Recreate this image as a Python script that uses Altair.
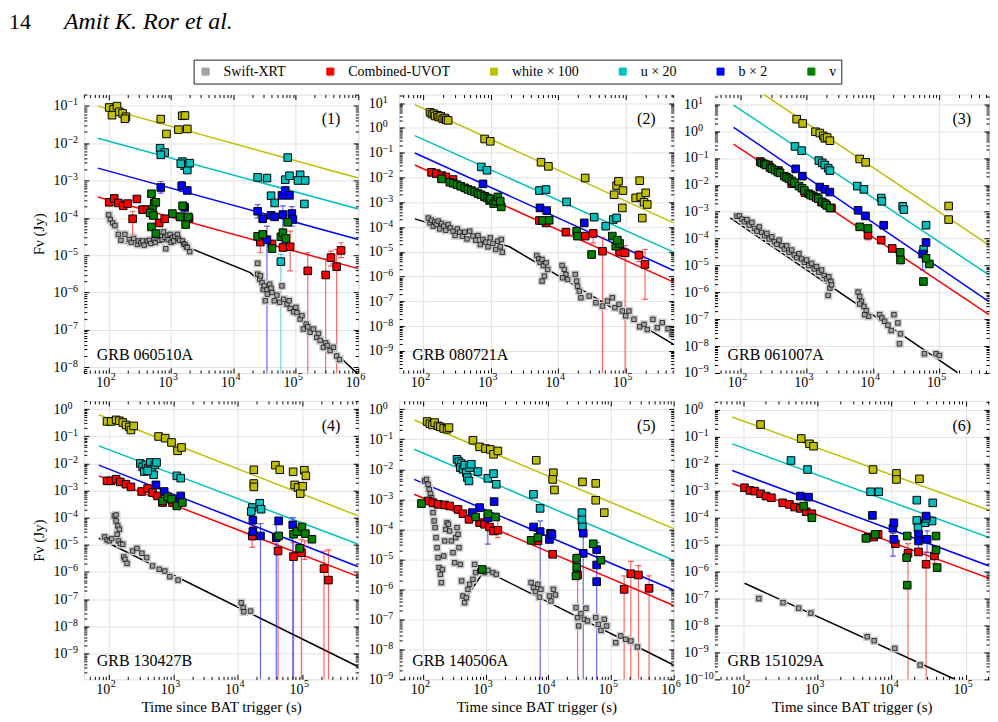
import math
import altair as alt
import pandas as pd

FONT = "Liberation Serif"
XRT, UV, WH, U, B, V = "Swift-XRT", "Combined-UVOT", "white × 100", "u × 20", "b × 2", "v"
BANDS = [XRT, UV, WH, U, B, V]
COLORS = ["#a3a3a3", "#ff0000", "#bfbf00", "#00bfbf", "#0000ff", "#008000"]
GRID = "#e2e2e2"
LOW = 1e-20
W, H = 275, 279

# ---------------- Panel 1 : GRB 060510A ----------------
p1_xdom = [40, 1e6]
p1_ydom = [7e-9, 0.2]
p1_xrt = [(100, 1.2e-4), (106, 9.0e-5), (116, 7.3e-5), (126, 6.2e-5), (143, 3.6e-5), (157, 2.5e-5),
          (182, 3.6e-5), (214, 2.6e-5), (230, 2.2e-5), (251, 2.8e-5), (290, 1.94e-5), (300, 2.4e-5),
          (328, 2.15e-5), (350, 2.4e-5), (371, 1.86e-5), (419, 2.4e-5), (450, 2.5e-5), (474, 2.06e-5),
          (536, 2.6e-5), (560, 2.2e-5), (605, 2.8e-5), (650, 2.5e-5), (684, 3.2e-5), (720, 2.6e-5),
          (755, 4.2e-5), (800, 3.0e-5), (822, 1.49e-5), (874, 3.4e-5), (900, 2.6e-5), (964, 3.6e-5),
          (1000, 2.2e-5), (1050, 2.9e-5), (1100, 2.4e-5), (1150, 3.2e-5), (1260, 3.6e-5), (1300, 2.8e-5),
          (1370, 2.5e-5), (1520, 2.4e-5), (1600, 2.0e-5), (1670, 1.94e-5), (1750, 1.7e-5), (1820, 1.6e-5),
          (1990, 1.24e-5),
          (2.44e4, 6.05e-6), (2.44e4, 3.1e-6), (2.63e4, 2.27e-6), (2.7e4, 2.8e-6), (2.87e4, 1.85e-6),
          (3.0e4, 1.2e-6), (3.12e4, 1.5e-6), (3.24e4, 6e-7), (3.44e4, 1.18e-6), (3.5e4, 9e-7),
          (3.8e4, 1.67e-6), (4.0e4, 1.3e-6), (4.14e4, 1.0e-6), (4.5e4, 6e-7), (4.97e4, 8.5e-7),
          (5.5e4, 5.5e-7), (5.98e4, 1.5e-6), (6.35e4, 6.6e-7), (7.2e4, 4.9e-7), (7.8e4, 6.0e-7),
          (8.1e4, 3.75e-7), (9.2e4, 3.05e-7), (1.0e5, 4.0e-7), (1.04e5, 2.9e-7), (1.17e5, 1.95e-7),
          (1.25e5, 2.4e-7), (1.32e5, 1.05e-7), (1.46e5, 1.43e-7), (1.55e5, 1.2e-7), (1.69e5, 8.6e-8),
          (1.91e5, 1.05e-7), (2.16e5, 6.3e-8), (2.3e5, 8e-8), (2.45e5, 5.2e-8), (2.76e5, 3.4e-8),
          (3.0e5, 4.5e-8), (3.2e5, 3.8e-8), (3.53e5, 2.8e-8), (4.0e5, 3.4e-8), (4.5e5, 2.0e-8),
          (5.0e5, 1.6e-8)]
p1_white = [(102, 0.090), (120, 0.080), (136, 0.098), (113, 0.056), (148, 0.069), (167, 0.0625),
            (189, 0.051), (182, 0.045), (684, 0.044), (843, 0.0176), (1310, 0.023), (1510, 0.054),
            (1670, 0.055), (1820, 0.024)]
p1_u = [(667, 7.3e-3), (792, 5.6e-3), (684, 4.85e-3), (1520, 3.2e-3), (1650, 2.5e-3), (1820, 1.9e-3),
        (1990, 2.9e-3), (1430, 2.8e-3), (7.4e4, 4.1e-3), (2.44e4, 1.21e-3), (3.44e4, 1.16e-3),
        (6.76e4, 1.05e-3), (7.9e4, 1.34e-3), (1.17e5, 1.42e-3), (1.08e5, 1.0e-3), (1.41e5, 1.0e-3),
        (4.0e4, 3.9e-4), (4.57e4, 2.5e-4), (1.37e5, 2.35e-4), (5.75e4, 6.7e-6)]
p1_b = [(684, 6.5e-4), (1480, 7.2e-4), (1820, 5.4e-4), (1650, 1.9e-4), (2.44e4, 1.5e-4), (2.94e4, 9.4e-5),
        (4.0e4, 1.17e-4), (4.57e4, 1.06e-4), (5.98e4, 4.0e-4), (6.76e4, 5.4e-4), (7.9e4, 4.0e-4),
        (6.2e4, 1.22e-4), (8.6e4, 1.3e-4), (8.95e4, 9.0e-5), (3.44e4, 2.6e-5)]
p1_v = [(485, 4.4e-4), (536, 2.5e-4), (569, 2.6e-4), (504, 1.66e-4), (462, 1.35e-4), (522, 1.15e-4),
        (485, 5.7e-5), (569, 3.8e-5), (1050, 1.3e-4), (1390, 1.06e-4), (1530, 2.1e-4), (1710, 6.6e-5),
        (1890, 1.06e-4), (2.44e4, 3.2e-5), (2.94e4, 3.6e-5), (4.14e4, 1.5e-5), (5.75e4, 3.1e-5),
        (6.2e4, 4.0e-5), (6.9e4, 2.8e-5), (7.4e4, 7.6e-5)]
p1_uvot = [(102, 2.6e-4), (123, 3.3e-4), (143, 2.5e-4), (171, 2.1e-4), (201, 2.4e-4), (242, 9.4e-5),
           (283, 3.2e-4), (349, 1.66e-4), (419, 1.66e-4), (644, 7.3e-5), (792, 9.4e-5), (1430, 1.06e-4),
           (1940, 9.6e-5), (2.7e4, 2.24e-5), (4.14e4, 2.0e-5), (6.2e4, 1.6e-5), (8.1e4, 1.68e-5),
           (1.55e5, 3.8e-6), (3.0e5, 2.95e-6), (3.66e5, 8.6e-6), (4.5e5, 4.9e-6), (5.3e5, 1.34e-5)]
p1_err = [(UV, 242, 3.6e-5, 1.5e-4), (UV, 2.7e4, 1.16e-5, 3.6e-5), (UV, 8.1e4, 3.8e-6, 4.4e-5),
          (UV, 1.55e5, LOW, 1.16e-5), (UV, 3.0e5, LOW, 8e-6), (UV, 3.66e5, 5.1e-6, 1.29e-5),
          (UV, 4.5e5, LOW, 1.43e-5), (UV, 5.3e5, 8.6e-6, 2.15e-5), (B, 3.44e4, LOW, 6e-5),
          (U, 5.75e4, LOW, 1.05e-5), (B, 684, 4.6e-4, 9.4e-4), (B, 1480, 5e-4, 9.4e-4),
          (B, 1650, 1.3e-4, 2.6e-4), (B, 2.44e4, 1.0e-4, 2.25e-4), (B, 6.2e4, 2.15e-5, 2.1e-4),
          (B, 8.6e4, 6e-5, 2.0e-4)]
p1_fits = [(WH, 67, 0.098), (WH, 1e6, 1.16e-3), (U, 67, 0.0135), (U, 1e6, 1.73e-4),
           (B, 67, 2.14e-3), (B, 1e6, 2.64e-5), (UV, 67, 3.6e-4), (UV, 1e6, 4.36e-6)]
p1_xrt_fit = [(100, 1.22e-4), (189, 2.06e-5), (1000, 2.48e-5), (1.86e4, 3.4e-6), (1e6, 6.4e-9)]

# ---------------- Panel 2 : GRB 080721A ----------------
p2_xdom = [44, 5.2e5]
p2_ydom = [1.3e-10, 22]
p2_xrt = [(119, 2.3e-4), (126, 1.47e-4), (133, 1.88e-4), (141, 1.08e-4), (149, 1.57e-4), (157, 1.26e-4),
          (167, 1.72e-4), (176, 8.4e-5), (187, 1.38e-4), (202, 1.08e-4), (216, 7.4e-5), (234, 1.26e-4),
          (253, 9.2e-5), (277, 6.8e-5), (297, 4.55e-5), (321, 8.4e-5), (348, 6.2e-5), (381, 4.3e-5),
          (413, 6.2e-5), (447, 3.3e-5), (490, 6.8e-5), (548, 4.3e-5), (600, 2.95e-5), (650, 4.55e-5),
          (703, 1.97e-5), (770, 3.14e-5), (843, 2.45e-5), (914, 1.59e-5), (988, 3.66e-5), (1080, 2.17e-5),
          (1190, 1.24e-5), (1280, 2.69e-5), (1390, 1.59e-5), (1490, 9.7e-6), (1440, 3.14e-5),
          (4840, 7.1e-6), (5180, 5.2e-6), (5420, 3.8e-6), (5800, 4.9e-6), (6070, 2.8e-6), (6650, 3.6e-6),
          (7030, 1.95e-6), (6280, 1.05e-6), (5800, 6.6e-7),
          (1.15e4, 2.8e-6), (1.24e4, 1.95e-6), (1.31e4, 1.22e-6), (1.39e4, 7.7e-7), (1.17e4, 9.0e-7),
          (1.8e4, 1.22e-6), (1.89e4, 6.6e-7), (1.95e4, 4.1e-7), (2.07e4, 2.6e-7), (2.19e4, 1.4e-7),
          (2.9e4, 1.64e-7), (3.65e4, 8.8e-8), (4.57e4, 6.5e-8), (5.4e4, 1.03e-7), (6.4e4, 1.4e-7),
          (7.0e4, 5.6e-8), (8.05e4, 7.6e-8), (9.0e4, 4.1e-8), (1.01e5, 2.6e-8), (1.13e5, 4.1e-8),
          (1.34e5, 1.9e-8), (1.63e5, 9.5e-9), (1.89e5, 1.19e-8), (2.11e5, 7.4e-9), (2.56e5, 1.88e-8),
          (2.97e5, 8.7e-9), (3.52e5, 1.38e-8), (4.3e5, 7.9e-9), (4.95e5, 4.7e-9)]
p2_white = [(126, 4.2), (135, 3.6), (144, 3.7), (150, 3.0), (163, 3.2), (170, 2.7), (182, 2.9),
            (195, 2.3), (209, 2.5), (220, 2.1), (234, 2.0), (815, 0.355), (988, 0.286), (5600, 0.041),
            (7200, 0.028), (2.53e4, 9.5e-3), (6.8e4, 2.0e-3), (7.4e4, 4.7e-3), (7.9e4, 7.0e-3),
            (9.2e4, 2.95e-3), (9.0e4, 5.9e-4), (1.63e5, 7.4e-3), (1.42e5, 1.5e-3), (1.69e5, 1.64e-3),
            (2.0e5, 2.4e-3), (1.89e5, 1.0e-3), (2.11e5, 8.1e-4), (1.78e5, 2.3e-4)]
p2_u = [(728, 0.0265), (883, 0.0195), (5300, 2.95e-3), (6650, 3.24e-3), (1.34e4, 1.03e-3),
        (3.44e4, 2.5e-4), (5.1e4, 1.08e-4), (6.6e4, 2.0e-4), (7.4e4, 2.34e-4)]
p2_b = [(770, 5.5e-3), (5400, 5.9e-4), (6800, 4.6e-4), (2.45e4, 1.47e-4)]
p2_v = [(187, 8.7e-3), (248, 6.4e-3), (280, 5.8e-3), (318, 5.1e-3), (360, 4.4e-3), (413, 3.8e-3),
        (460, 3.3e-3), (518, 2.95e-3), (580, 2.6e-3), (650, 2.23e-3), (720, 2.0e-3), (815, 1.75e-3),
        (900, 1.5e-3), (966, 1.17e-3), (1000, 1.35e-3), (1110, 8.8e-4), (1200, 1.1e-3), (1280, 1.64e-3),
        (1440, 6.5e-4), (1390, 1.1e-3), (5900, 1.83e-4), (7400, 1.88e-4), (1.89e4, 6.8e-5),
        (1.95e4, 4.3e-5), (3.15e4, 7.8e-6), (6.4e4, 4.3e-5), (7.2e4, 1.69e-5), (8.2e4, 2.17e-5),
        (7.6e4, 2.95e-5)]
p2_uvot = [(133, 0.016), (157, 0.0143), (187, 0.0119), (216, 0.0105), (277, 8.2e-3), (815, 1.64e-3),
           (5300, 1.83e-4), (6650, 1.47e-4), (1.31e4, 6.2e-5), (2.53e4, 4.3e-5), (3.33e4, 5.5e-5),
           (4.57e4, 1.06e-5), (8.2e4, 9.7e-6), (9.9e4, 9.1e-6), (1.59e5, 7.3e-6), (1.95e5, 3.1e-6)]
p2_err = [(UV, 3.33e4, 2.3e-5, 7.9e-5), (UV, 4.57e4, LOW, 3.7e-5), (UV, 9.9e4, LOW, 1.8e-5),
          (UV, 1.59e5, 4e-6, 1.1e-5), (UV, 1.95e5, 1.2e-7, 1.24e-5)]
p2_fits = [(WH, 75, 8.6), (WH, 5.2e5, 1.47e-4), (U, 75, 0.484), (U, 5.2e5, 9.7e-6),
           (B, 75, 0.097), (B, 5.2e5, 1.77e-6), (UV, 75, 0.0318), (UV, 5.2e5, 6.0e-7)]
p2_xrt_fit = [(75, 2.13e-4), (1910, 1.6e-5), (5.2e5, 1.85e-9)]

# ---------------- Panel 3 : GRB 061007A ----------------
p3_xdom = [41, 5.6e5]
p3_ydom = [1e-9, 23]
p3_xrt = [(89, 6.8e-4), (97, 7.0e-4), (106, 5.3e-4), (115, 4.2e-4), (126, 5.1e-4), (136, 3.16e-4),
          (150, 4.0e-4), (164, 2.38e-4), (178, 1.89e-4), (193, 2.74e-4), (211, 1.69e-4), (232, 1.27e-4),
          (251, 1.55e-4), (272, 9.6e-5), (299, 1.17e-4), (327, 7.6e-5), (355, 6.1e-5), (385, 8.8e-5),
          (422, 5.4e-5), (462, 4.1e-5), (501, 5.4e-5), (543, 3.08e-5), (596, 3.76e-5), (653, 2.45e-5),
          (708, 1.95e-5), (767, 2.75e-5), (841, 1.75e-5), (923, 1.31e-5), (1000, 1.6e-5), (1080, 9.9e-6),
          (1190, 1.2e-5), (1300, 7.4e-6), (1410, 9.1e-6), (1530, 5.6e-6), (1680, 6.8e-6), (1840, 4.2e-6),
          (2000, 3.2e-6), (2160, 3.8e-6), (2320, 2.53e-6), (2240, 1.44e-6), (2110, 7.7e-7), (2370, 1.9e-6),
          (5960, 1.02e-6), (6300, 7.0e-7), (6700, 4.6e-7), (7300, 3.0e-7), (7900, 2.08e-7), (8600, 1.28e-7),
          (7500, 1.48e-7), (6300, 3.7e-7), (1.26e4, 1.48e-7), (1.36e4, 1.11e-7), (1.5e4, 8.4e-8),
          (1.68e4, 6.0e-8), (1.88e4, 3.8e-8), (2.07e4, 1.48e-7), (2.37e4, 7.3e-8), (2.6e4, 2.85e-8),
          (2.51e4, 1.22e-8), (5.96e4, 5.2e-9), (8.9e4, 5.2e-9), (1.0e5, 4.5e-9)]
p3_white = [(708, 2.79), (871, 1.93), (1360, 0.95), (1580, 0.85), (1780, 0.67), (1880, 0.54), (2040, 0.58),
            (2240, 0.44), (6300, 0.092), (7760, 0.069), (1.38e5, 1.64e-3), (1.38e5, 5.1e-4)]
p3_u = [(668, 0.27), (841, 0.188), (1530, 0.08), (1720, 0.066), (1880, 0.055), (2110, 0.042), (2240, 0.034),
        (5800, 9.0e-3), (7300, 6.8e-3), (1.33e4, 3.24e-3), (1.36e4, 2.44e-3), (2.8e4, 1.59e-3),
        (2.92e4, 1.2e-3), (5.8e4, 4.0e-5), (6.3e4, 3.16e-4)]
p3_b = [(684, 0.0394), (861, 0.0211), (1580, 8.3e-3), (1880, 6.8e-3), (2240, 5.4e-3), (5960, 1.13e-3),
        (7700, 7.0e-4), (1.45e4, 3.16e-4), (5.6e4, 2.67e-5), (6.3e4, 7.2e-5)]
p3_v = [(211, 0.066), (230, 0.06), (243, 0.055), (282, 0.044), (300, 0.04), (335, 0.0352), (370, 0.03),
        (398, 0.028), (462, 0.0211), (500, 0.019), (543, 0.0168), (600, 0.014), (653, 0.012), (767, 9.0e-3),
        (850, 7.5e-3), (923, 6.2e-3), (1080, 4.7e-3), (1150, 4.2e-3), (1260, 3.85e-3), (1400, 3.4e-3),
        (1500, 3.06e-3), (1720, 2.3e-3), (1900, 2.0e-3), (2000, 1.73e-3), (2240, 1.38e-3), (6300, 2.74e-4),
        (8400, 2.38e-4), (2.57e4, 3.08e-5), (2.6e4, 1.6e-5), (5.75e4, 2.53e-6), (7.08e4, 1.14e-5),
        (6.3e4, 1.85e-5)]
p3_uvot = [(200, 0.074), (266, 0.055), (376, 0.034), (596, 0.011), (944, 5.1e-3), (1680, 2.3e-3),
           (2370, 1.38e-3), (8400, 1.35e-4), (1.33e4, 8.8e-5), (1.95e4, 4.3e-5)]
p3_err = [(UV, 8400, 9e-5, 2.0e-4), (B, 5.6e4, 6.8e-6, 4.1e-5)]
p3_fits = [(WH, 70, 160), (WH, 5.6e5, 5.75e-5), (U, 79.4, 9.2), (U, 5.6e5, 4.47e-6),
           (B, 79.4, 1.37), (B, 5.6e5, 4.5e-7), (UV, 79.4, 0.33), (UV, 5.6e5, 1.48e-7)]
p3_xrt_fit = [(70.8, 5.9e-4), (1.88e5, 1.03e-9)]

# ---------------- Panel 4 : GRB 130427B ----------------
p4_xdom = [41, 7.5e5]
p4_ydom = [1.1e-10, 2]
p4_xrt = [(86, 1.95e-5), (94, 1.51e-5), (102, 1.39e-5), (111, 1.69e-5), (122, 1.16e-4), (130, 1.26e-4),
          (130, 7.6e-5), (138, 4.95e-5), (135, 2.44e-5), (146, 3.73e-5), (141, 1.39e-5), (151, 1.1e-5),
          (165, 1.04e-5), (171, 3.56e-6), (179, 2.92e-6), (192, 2.07e-6), (235, 5.9e-6), (274, 7.4e-6),
          (327, 4.85e-6), (387, 3.36e-6), (479, 1.66e-6), (608, 1.25e-6), (743, 1.08e-6), (888, 6.7e-7),
          (1190, 5.0e-7), (1.14e4, 7.3e-8), (1.22e4, 4.8e-8), (1.25e4, 3.4e-8), (1.59e4, 3.6e-8)]
p4_white = [(94, 0.35), (109, 0.35), (130, 0.40), (146, 0.37), (165, 0.32), (185, 0.26), (209, 0.22),
            (221, 0.17), (244, 0.24), (593, 0.098), (752, 0.085), (942, 0.059), (1170, 0.029),
            (1350, 0.0385), (1.79e4, 5.8e-3), (1.79e4, 1.81e-3), (1.79e4, 1.36e-3), (3.87e4, 8.6e-3),
            (4.52e4, 5.8e-3), (7.3e4, 4.9e-3), (7.7e4, 1.61e-3), (8.7e4, 1.29e-3), (9.4e4, 7.7e-4),
            (1.03e5, 1.44e-3), (1.09e5, 5.6e-3), (1.15e5, 3.47e-3)]
p4_u = [(309, 9.9e-3), (336, 7.4e-3), (356, 5.0e-3), (378, 8.8e-3), (410, 6.7e-3), (441, 0.0108),
        (462, 6.1e-3), (497, 3.8e-3), (520, 8.8e-3), (552, 0.0108), (401, 5.3e-3), (1140, 3.47e-3),
        (1310, 2.85e-3), (1.69e4, 2.35e-4), (1.63e4, 1.68e-4), (2.21e4, 3.4e-4), (2.32e4, 2.04e-4)]
p4_b = [(540, 1.61e-3), (726, 9.2e-4), (1140, 4.5e-4), (1310, 6.3e-4), (1.73e4, 8.0e-5), (1.73e4, 3.06e-5),
        (2.27e4, 2.12e-5), (4.35e4, 7.6e-5), (4.0e4, 1.84e-5), (7.2e4, 5.4e-5)]
p4_v = [(684, 4.14e-4), (817, 5.8e-4), (942, 4.8e-4), (1140, 2.7e-4), (1390, 3.6e-4), (4.35e4, 2.12e-5),
        (7.4e4, 2.44e-5), (8.4e4, 3.06e-5), (1.0e5, 4.55e-5), (9.2e4, 7.4e-6), (1.13e5, 2.58e-5),
        (1.43e5, 1.6e-5)]
p4_uvot = [(94, 2.27e-3), (109, 2.27e-3), (130, 2.6e-3), (151, 2.08e-3), (185, 1.71e-3), (221, 1.36e-3),
           (324, 9.2e-4), (401, 1.18e-3), (479, 8.4e-4), (573, 6.3e-4), (684, 3.6e-4), (977, 3.6e-4),
           (1.69e4, 2.12e-5), (4.26e4, 5.9e-6), (7.4e4, 3.66e-6), (9.8e4, 5.1e-6), (2.2e5, 1.32e-6),
           (2.58e5, 5.0e-7)]
p4_err = [(B, 2.27e4, LOW, 6e-5), (B, 4.0e4, LOW, 5.5e-5), (UV, 4.26e4, LOW, 1.6e-5), (B, 7.2e4, LOW, 1.0e-4),
          (UV, 7.4e4, LOW, 1.2e-5), (UV, 9.8e4, LOW, 1.6e-5), (UV, 1.1e5, 2.9e-6, 1.4e-5),
          (UV, 2.2e5, LOW, 5.9e-6), (UV, 2.58e5, LOW, 6.5e-6), (UV, 1.69e4, 8e-6, 4.6e-5),
          (B, 1.73e4, 1.5e-5, 4.5e-5)]
p4_fits = [(WH, 70, 0.62), (WH, 7.5e5, 1.16e-4), (U, 70, 0.0443), (U, 7.5e5, 1.04e-5),
           (B, 70, 8.6e-3), (B, 7.5e5, 1.56e-6), (UV, 70, 3.47e-3), (UV, 7.5e5, 6.7e-7)]
p4_xrt_fit = [(70, 1.74e-5), (7.5e5, 3.2e-10)]

# ---------------- Panel 5 : GRB 140506A ----------------
p5_xdom = [41.5, 1e6]
p5_ydom = [1e-9, 1.9]
p5_xrt = [(106, 4.1e-3), (113, 4.6e-3), (120, 3.16e-3), (125, 2.15e-3), (131, 1.55e-3), (136, 1.14e-3),
          (141, 6.8e-4), (144, 3.6e-4), (150, 1.9e-4), (155, 1.14e-4), (161, 5.3e-5), (167, 2.45e-5),
          (173, 1.14e-5), (180, 5.3e-6), (189, 3.16e-6), (196, 1.67e-6), (203, 4.6e-6), (213, 1.29e-5),
          (221, 4.1e-5), (230, 1.0e-4), (241, 1.67e-4), (253, 1.47e-4), (265, 8.8e-5), (282, 4.1e-5),
          (300, 1.67e-5), (319, 7.7e-6), (331, 5.3e-5), (348, 1.14e-4), (361, 6.8e-5), (374, 2.45e-5),
          (393, 6.8e-6), (412, 1.9e-6), (433, 6.0e-7), (460, 3.6e-7), (490, 5.3e-7), (520, 1.0e-6),
          (553, 1.47e-6), (625, 2.15e-6), (664, 6.8e-6), (689, 3.6e-6), (798, 4.1e-6), (957, 3.6e-6),
          (1080, 4.3e-6), (1300, 3.6e-6), (1470, 3.16e-6),
          (5300, 1.67e-6), (5800, 1.14e-6), (6200, 8.4e-7), (6800, 1.47e-6), (7200, 5.5e-7), (7600, 1.0e-6),
          (1.04e4, 6.0e-7), (1.1e4, 4.1e-7), (1.2e4, 1.0e-6), (1.29e4, 6.5e-7), (2.76e4, 2.45e-7),
          (2.93e4, 1.14e-7), (3.04e4, 6.0e-8), (3.31e4, 1.55e-7), (3.74e4, 1.0e-7), (3.97e4, 2.33e-7),
          (4.22e4, 8.8e-8), (5.7e4, 1.14e-7), (6.3e4, 6.8e-8), (6.9e4, 4.3e-8), (7.8e4, 1.0e-7),
          (8.5e4, 6.0e-8), (1.19e5, 1.67e-8), (1.43e5, 2.8e-8), (1.72e5, 2.15e-8), (2.07e5, 1.9e-8),
          (2.64e5, 1.2e-8)]
p5_white = [(116, 0.39), (128, 0.33), (141, 0.30), (153, 0.36), (173, 0.28), (189, 0.26), (213, 0.23),
            (241, 0.215), (259, 0.245), (625, 0.093), (798, 0.056), (993, 0.049), (1180, 0.046),
            (1330, 0.0316), (1560, 0.041), (6400, 0.02), (1.2e4, 7.7e-3), (1.17e4, 4.6e-3), (1.25e4, 2.05e-3),
            (3.5e4, 3.8e-3), (5.7e4, 3.4e-3), (5.7e4, 9.3e-4), (7.8e4, 3.6e-4)]
p5_u = [(348, 0.0215), (374, 0.018), (408, 0.0155), (393, 0.0114), (433, 0.01), (460, 0.0136), (490, 7.7e-3),
        (508, 5.3e-3), (540, 4.1e-3), (553, 0.0114), (588, 0.0147), (750, 8.4e-3), (1080, 5.0e-3),
        (1330, 7.2e-3), (1470, 3.16e-3), (5770, 1.47e-3), (7370, 5.0e-4), (3.43e4, 3.6e-4), (3.43e4, 2.05e-4),
        (3.5e4, 1.2e-4)]
p5_b = [(610, 3.6e-4), (798, 5.3e-4), (1360, 8.4e-4), (1080, 2.45e-4), (5800, 1.2e-4), (7400, 8.4e-5),
        (1.08e4, 7.4e-5), (1.04e4, 4.6e-5), (1.14e4, 6.8e-5), (3.6e4, 7.4e-5), (3.6e4, 1.58e-5),
        (5.9e4, 2.1e-5), (5.9e4, 6.5e-6), (5.9e4, 1.8e-6)]
p5_v = [(94, 7.2e-4), (689, 2.58e-4), (880, 4.6e-6), (1080, 3.3e-4), (1430, 2.58e-4), (5300, 4.3e-5),
        (6800, 5.3e-5), (2.83e4, 1.08e-5), (2.83e4, 5.5e-6), (2.76e4, 2.8e-6), (5.2e4, 3.3e-5), (6.9e4, 9.3e-6)]
p5_uvot = [(120, 8.8e-4), (144, 7.7e-4), (173, 6.8e-4), (221, 6.5e-4), (265, 6.0e-4), (361, 4.6e-4),
           (433, 3.3e-4), (540, 2.15e-4), (798, 1.67e-4), (957, 1.47e-4), (1150, 1.2e-4), (1330, 8.8e-5),
           (1560, 9.3e-5), (6800, 4.1e-5), (1.17e4, 1.47e-5), (2.93e4, 3.0e-6), (1.62e5, 1.0e-6),
           (2.07e5, 3.3e-6), (2.74e5, 3.0e-6), (4.05e5, 1.08e-6)]
p5_err = [(B, 1080, 3.2e-5, 4.1e-4), (UV, 1560, 5.3e-5, 2.15e-4), (B, 7400, LOW, 1.9e-4),
          (UV, 2.93e4, LOW, 1.5e-5), (B, 3.6e4, LOW, 1.47e-4), (B, 5.9e4, LOW, 3.6e-5),
          (UV, 1.62e5, LOW, 2.8e-6), (UV, 2.07e5, LOW, 8.5e-6), (UV, 2.74e5, LOW, 6.2e-6),
          (UV, 4.05e5, LOW, 2.8e-6)]
p5_fits = [(WH, 72, 0.44), (WH, 1e6, 1.05e-4), (U, 72, 0.0464), (U, 1e6, 9.3e-6),
           (B, 72, 4.6e-3), (B, 1e6, 9.5e-7), (UV, 72, 1.47e-3), (UV, 1e6, 2.9e-7)]
p5_xrt_fit = [(446, 4.1e-7), (963, 4.3e-6), (1e6, 3.0e-9)]

# ---------------- Panel 6 : GRB 151029A ----------------
p6_xdom = [41, 2.05e5]
p6_ydom = [1e-10, 2.1]
p6_xrt = [(162, 9.9e-8), (343, 7.0e-8), (557, 4.36e-8), (815, 2.85e-8), (4680, 3.8e-9), (5800, 2.7e-9),
          (1.1e4, 1.4e-9), (2.42e4, 3.4e-10)]
p6_white = [(171, 0.28), (604, 0.085), (781, 0.054), (884, 0.044), (5600, 6.0e-3), (1.16e4, 4.3e-3),
            (1.16e4, 2.58e-3), (2.37e4, 2.72e-3)]
p6_u = [(440, 0.013), (734, 6.0e-3), (5200, 9.0e-4), (6700, 9.0e-4), (2.18e4, 4.4e-4), (2.18e4, 7.8e-5),
        (2.26e4, 4.2e-5), (2.83e4, 6.4e-5), (3.58e4, 3.5e-4), (3.5e4, 7.4e-5), (2.91e4, 9.3e-5)]
p6_b = [(586, 6.2e-4), (757, 5.7e-4), (5500, 1.2e-4), (1.04e4, 4.0e-5), (1.07e4, 6.4e-5), (1.07e4, 1.55e-5),
        (2.3e4, 2.4e-5), (2.3e4, 1.35e-5), (2.91e4, 1.13e-4), (3.0e4, 1.55e-5)]
p6_v = [(650, 2.65e-4), (839, 9.8e-5), (4490, 1.69e-5), (6000, 2.38e-5), (1.62e4, 2.06e-5), (1.59e4, 3.26e-6),
        (1.62e4, 3.1e-7), (3.96e4, 2.06e-5), (3.96e4, 6.3e-6), (4.1e4, 1.39e-6)]
p6_uvot = [(104, 1.27e-3), (123, 1.01e-3), (143, 9.5e-4), (171, 7.6e-4), (203, 6.2e-4), (239, 5.4e-4),
           (340, 3.5e-4), (418, 3.06e-4), (492, 2.44e-4), (586, 2.18e-4), (705, 1.64e-4), (839, 1.38e-4),
           (4820, 1.89e-5), (5740, 1.89e-5), (6560, 2.38e-5), (1.12e4, 1.07e-5), (1.66e4, 4.7e-6),
           (2.3e4, 5.3e-6), (2.91e4, 1.85e-6), (3.77e4, 3.76e-6)]
p6_err = [(B, 1.04e4, 3.7e-6, 2.6e-5), (B, 2.3e4, 6e-6, 2.6e-5), (B, 3.0e4, 5e-6, 3.2e-5),
          (UV, 1.66e4, LOW, 1.07e-5), (UV, 2.91e4, LOW, 5.3e-6), (UV, 3.77e4, 2e-6, 4.5e-6)]
p6_fits = [(WH, 71, 0.535), (WH, 2.06e5, 1.84e-4), (U, 71, 0.0537), (U, 2.06e5, 1.79e-5),
           (B, 71, 5.5e-3), (B, 2.06e5, 1.6e-6), (UV, 71, 1.83e-3), (UV, 2.06e5, 5.6e-7)]
p6_xrt_fit = [(104, 3.66e-7), (6.98e4, 1.03e-10)]

names = ["GRB 060510A", "GRB 080721A", "GRB 061007A", "GRB 130427B", "GRB 140506A", "GRB 151029A"]
numbers = ["(1)", "(2)", "(3)", "(4)", "(5)", "(6)"]
x_title = "Time since BAT trigger (s)"
y_title = "Fν (Jy)"
header_page = "14"
header_authors = "Amit K. Ror et al."

PANELS = [
    (p1_xdom, p1_ydom, p1_xrt, [(UV, p1_uvot), (WH, p1_white), (U, p1_u), (B, p1_b), (V, p1_v)], p1_err, p1_fits, p1_xrt_fit),
    (p2_xdom, p2_ydom, p2_xrt, [(UV, p2_uvot), (WH, p2_white), (U, p2_u), (B, p2_b), (V, p2_v)], p2_err, p2_fits, p2_xrt_fit),
    (p3_xdom, p3_ydom, p3_xrt, [(UV, p3_uvot), (WH, p3_white), (U, p3_u), (B, p3_b), (V, p3_v)], p3_err, p3_fits, p3_xrt_fit),
    (p4_xdom, p4_ydom, p4_xrt, [(UV, p4_uvot), (WH, p4_white), (U, p4_u), (B, p4_b), (V, p4_v)], p4_err, p4_fits, p4_xrt_fit),
    (p5_xdom, p5_ydom, p5_xrt, [(UV, p5_uvot), (WH, p5_white), (U, p5_u), (B, p5_b), (V, p5_v)], p5_err, p5_fits, p5_xrt_fit),
    (p6_xdom, p6_ydom, p6_xrt, [(UV, p6_uvot), (WH, p6_white), (U, p6_u), (B, p6_b), (V, p6_v)], p6_err, p6_fits, p6_xrt_fit),
]


def decades(lo, hi):
    a = math.ceil(math.log10(lo) - 1e-9)
    b = math.floor(math.log10(hi) + 1e-9)
    return [float(10.0 ** k) for k in range(a, b + 1)]


def minors(lo, hi):
    out = []
    for k in range(math.floor(math.log10(lo)) - 1, math.ceil(math.log10(hi)) + 1):
        for m in range(2, 10):
            v = m * 10.0 ** k
            if lo <= v <= hi:
                out.append(v)
    return out


EXP = "replace('' + round(log(datum.value) / LN10), '-', '\u2212')"
CS = alt.Scale(domain=BANDS, range=COLORS)
LEGEND = alt.Legend(title=None, orient="none", legendX=110, legendY=-35, direction="horizontal",
                    symbolType="square", symbolSize=50, symbolStrokeColor="black", symbolStrokeWidth=1,
                    symbolOpacity=1, labelFont=FONT, labelFontSize=14, labelColor="black", labelOffset=11,
                    columnPadding=37, padding=5, strokeColor="#222222", fillColor="white")


def tick_axis(orient, vals, size):
    return alt.Axis(orient=orient, values=vals, offset=-size, tickSize=size, ticks=True, tickColor="black",
                    tickWidth=1, labels=False, domain=False, grid=False, title=None, zindex=2)


def build(i):
    xdom, ydom, xrt, bands, errs, fits, xfit = PANELS[i]
    left = i % 3 == 0
    bottom = i >= 3
    xs = alt.Scale(type="log", domain=xdom, nice=False)
    ys = alt.Scale(type="log", domain=ydom, nice=False)
    xmaj, ymaj = decades(*xdom), decades(*ydom)
    xmin, ymin = minors(*xdom), minors(*ydom)
    lab = dict(labelFont=FONT, labelColor="black", labelFlush=False, labelOverlap=False, ticks=False, domain=False)
    ax_lab_x = alt.Axis(orient="bottom", values=xmaj, labelExpr="'10'", labelAlign="right", labelOffset=1,
                        labelPadding=3, labelBaseline="top", labelFontSize=14, grid=True, gridColor=GRID,
                        gridWidth=1, title=(x_title if bottom else None), titleFont=FONT, titleFontSize=15,
                        titleFontWeight="normal", titleColor="black", titlePadding=3, **lab)
    ax_lab_y = alt.Axis(orient="left", values=ymaj, labelExpr="'10'", labelAlign="left", labelPadding=31,
                        labelBaseline="middle", labelFontSize=14, grid=True, gridColor=GRID, gridWidth=1,
                        title=(y_title if left else None), titleFont=FONT, titleFontSize=15,
                        titleFontWeight="normal", titleColor="black", titlePadding=6, **lab)
    ax_exp_x = alt.Axis(orient="bottom", values=xmaj, labelExpr=EXP, labelAlign="left", labelOffset=1.5,
                        labelPadding=-1, labelBaseline="top", labelFontSize=10, grid=False, title=None, **lab)
    ax_exp_y = alt.Axis(orient="left", values=ymaj, labelExpr=EXP, labelAlign="left", labelPadding=17,
                        labelOffset=-4, labelBaseline="middle", labelFontSize=10, grid=False, title=None, **lab)

    def X(axis):
        return alt.X("t:Q", scale=xs, axis=axis)

    def Y(axis, field="f:Q"):
        return alt.Y(field, scale=ys, axis=axis)

    pts = pd.DataFrame([(b, t, f) for b, lst in bands for t, f in lst], columns=["band", "t", "f"])
    xdf = pd.DataFrame([(XRT, t, f) for t, f in xrt], columns=["band", "t", "f"])
    edf = pd.DataFrame(errs, columns=["band", "t", "lo", "hi"])
    fdf = pd.DataFrame(fits, columns=["band", "t", "f"])
    xfdf = pd.DataFrame(xfit, columns=["t", "f"])
    col = alt.Color("band:N", scale=CS, legend=LEGEND)

    layers = [
        alt.Chart(fdf).mark_line(clip=True, strokeWidth=1.5).encode(
            x=X(ax_lab_x), y=Y(ax_lab_y), color=col, detail="band:N"),
        alt.Chart(xfdf).mark_line(clip=True, strokeWidth=1.5, color="black").encode(
            x=X(ax_exp_x), y=Y(ax_exp_y)),
        alt.Chart(edf).mark_rule(clip=True, strokeWidth=1.2, opacity=0.6).encode(
            x=X(tick_axis("bottom", xmaj, 5)), y=Y(tick_axis("left", ymaj, 5), "lo:Q"), y2="hi:Q", color=col),
        alt.Chart(edf).mark_tick(clip=True, orient="horizontal", size=6, thickness=1.2, opacity=0.6).encode(
            x=X(tick_axis("top", xmaj, 5)), y=Y(tick_axis("right", ymaj, 5), "lo:Q"), color=col),
        alt.Chart(edf).mark_tick(clip=True, orient="horizontal", size=6, thickness=1.2, opacity=0.6).encode(
            x=X(tick_axis("bottom", xmin, 3)), y=Y(tick_axis("left", ymin, 3), "hi:Q"), color=col),
        alt.Chart(xdf).mark_square(clip=True, size=70, color="#cdcdcd", opacity=1).encode(
            x=X(tick_axis("top", xmin, 3)), y=Y(tick_axis("right", ymin, 3))),
        alt.Chart(xdf).mark_square(clip=True, size=20, stroke="black", strokeWidth=0.7, opacity=1).encode(
            x=X(None), y=Y(None), color=col),
        alt.Chart(pts).mark_square(clip=True, size=58, stroke="black", strokeWidth=1, opacity=1).encode(
            x=X(None), y=Y(None), color=col),
        alt.Chart(pd.DataFrame({"s": [names[i]]})).mark_text(
            align="left", baseline="alphabetic", font=FONT, fontSize=16, color="black").encode(
            x=alt.value(13), y=alt.value(H - 13), text="s:N"),
        alt.Chart(pd.DataFrame({"s": [numbers[i]]})).mark_text(
            align="right", baseline="alphabetic", font=FONT, fontSize=16, color="black").encode(
            x=alt.value(W - 18), y=alt.value(30), text="s:N"),
    ]
    if i == 0:
        layers.append(alt.Chart(pd.DataFrame({"s": [header_page]})).mark_text(
            align="left", baseline="alphabetic", font=FONT, fontSize=22, color="black").encode(
            x=alt.value(-75), y=alt.value(-66), text="s:N"))
        layers.append(alt.Chart(pd.DataFrame({"s": [header_authors]})).mark_text(
            align="left", baseline="alphabetic", font=FONT, fontSize=24, fontStyle="italic", color="black").encode(
            x=alt.value(-20), y=alt.value(-66), text="s:N"))
    return alt.layer(*layers).resolve_axis(x="independent", y="independent").properties(width=W, height=H)


charts = [build(i) for i in range(6)]
chart = alt.concat(*charts, columns=3, spacing=alt.RowColnumber(row=28, column=41), bounds="flush").properties(
    padding=0).resolve_scale(color="shared").resolve_legend(color="shared").configure_view(
    stroke="black", strokeWidth=1.5).configure(font=FONT)

chart.save("out.html", embed_options={"renderer": "svg", "actions": False})
